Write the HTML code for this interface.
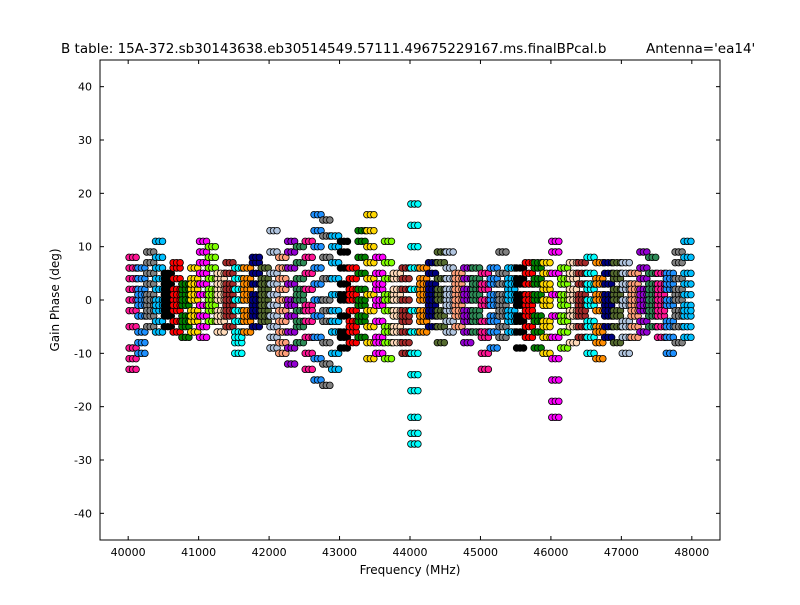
<!DOCTYPE html>
<html><head><meta charset="utf-8"><style>
body{margin:0;background:#fff;}
svg text{font-family:"DejaVu Sans","Liberation Sans",sans-serif;}
</style></head><body>
<svg id="chart" width="800" height="600" xmlns="http://www.w3.org/2000/svg">
<rect width="800" height="600" fill="#fff"/>
<text x="61" y="53" font-size="13.5">B table: 15A-372.sb30143638.eb30514549.57111.49675229167.ms.finalBPcal.b</text>
<text x="646" y="53" font-size="13.5">Antenna='ea14'</text>
<text x="410" y="574" font-size="12" text-anchor="middle">Frequency (MHz)</text>
<text x="59" y="300" font-size="12" text-anchor="middle" transform="rotate(-90 59 300)">Gain Phase (deg)</text>
<g id="marks"></g>
<g id="axes"></g>
</svg>
<script>
const xTicks=[40000,41000,42000,43000,44000,45000,46000,47000,48000];
const yTicks=[-40,-30,-20,-10,0,10,20,30,40];
const winStart=40000, winWidth=125;
const colors=["#ff1493","#1e90ff","#808080","#00bfff","#000000","#ff0000","#008000","#ffd700","#ff00ff","#7fff00","#ffdab9","#a52a2a","#00ffff","#ff8c00","#000080","#556b2f","#b0c4de","#ffa07a","#9400d3","#2e8b57"];
const phases=[
[-13,-9,-5,-2,0,2,4,6,8,-11],[-10,-6,-3,0,2,4,6,-8,1,-1],[-5,-3,-1,1,3,5,7,9,-2,0],[-6,-4,-2,0,2,4,6,11,8,-1],
[-5,-3,-1,1,3,5,-2,0,2,4],[-6,-4,-2,0,2,4,6,7,-1,1],[-7,-5,-3,-1,1,3,-4,0,2,3],[-6,-4,-2,0,2,4,6,-3,1,3],
[-7,-5,-3,-1,1,3,5,7,9,11],[-4,-2,0,2,4,6,8,10,-1,1],[-6,-4,-2,0,2,4,-3,1,3,5],[-5,-3,-1,1,3,5,7,-2,0,2],
[-10,-8,-6,-4,-2,0,2,4,6,-7],[-6,-4,-2,0,2,4,6,-3,1,3],[-5,-3,-1,1,3,5,7,8,-2,0],[-4,-2,0,2,4,6,-3,-1,1,3],
[-9,-7,-5,-3,-1,1,3,5,9,13],[-10,-6,-4,-2,0,2,4,6,8,-8],[-12,-9,-6,-3,0,3,6,9,11,-1],[-8,-5,-2,0,2,4,7,10,-4,1],
[-13,-10,-7,-4,-1,2,5,8,11,-2],[-15,-11,-7,-3,0,3,6,10,16,13],[-16,-12,-8,-4,0,4,8,12,15,-2],[-13,-10,-6,-2,1,4,7,10,12,-4],
[-9,-6,-3,0,3,6,9,11,-7,1],[-8,-6,-4,-2,0,2,4,6,-5,1],[-7,-4,-1,2,5,8,11,13,-3,0],[-11,-8,-5,-2,1,4,7,10,16,13],
[-10,-7,-4,-1,2,5,8,-8,0,3],[-11,-8,-5,-2,1,4,7,11,-6,0],[-8,-5,-2,1,4,-6,-3,0,2,5],[-10,-8,-6,-4,-2,0,2,4,6,-3],
[-27,-25,-22,-17,-14,-10,-6,-2,2,6,10,14,18],[-6,-4,-2,0,2,4,6,-3,1,3],[-5,-3,-1,1,3,5,7,-2,0,2],[-8,-5,-2,1,4,7,9,-3,0,2],
[-6,-4,-2,0,2,4,6,9,-1,1],[-5,-3,-1,1,3,5,-2,0,2,4],[-8,-6,-4,-2,0,2,4,6,-3,1],[-6,-4,-2,0,2,4,6,-3,1,3],
[-13,-10,-7,-4,-1,2,5,-6,0,3],[-9,-6,-3,0,3,6,-4,-1,1,4],[-7,-5,-3,-1,1,3,5,9,-2,0],[-6,-4,-2,0,2,4,6,-3,1,3],
[-9,-6,-3,0,3,6,-4,-1,1,4],[-7,-5,-3,-1,1,3,5,7,-2,0],[-9,-6,-3,0,3,6,7,-4,1,4],[-10,-7,-4,-1,2,5,7,-5,0,3],
[-22,-19,-15,-11,-7,-3,1,5,9,11],[-9,-6,-3,0,3,6,-4,-1,1,4],[-8,-5,-2,1,4,7,-3,0,2,5],[-7,-5,-3,-1,1,3,5,7,-2,0],
[-10,-7,-4,-1,2,5,8,-5,0,3],[-11,-8,-5,-2,1,4,7,-6,0,3],[-7,-5,-3,-1,1,3,5,7,-2,0],[-8,-5,-2,1,4,7,-3,0,2,5],
[-10,-7,-4,-1,2,5,7,-5,0,3],[-7,-5,-3,-1,1,3,5,-2,0,2],[-6,-4,-2,0,2,4,6,9,-1,1],[-5,-3,-1,1,3,5,8,-2,0,2],
[-7,-5,-3,-1,1,3,5,-2,0,2],[-10,-7,-4,-1,2,5,-5,0,3,4],[-8,-5,-2,1,4,7,9,-3,0,2],[-7,-5,-3,-1,1,3,5,8,11,-2]
];
const L=100,R=720,T=60,B=540,xMin=39600,xMax=48400,yMin=-45,yMax=45;
const xs=v=>L+(v-xMin)/(xMax-xMin)*(R-L);
const ys=v=>B-(v-yMin)/(yMax-yMin)*(B-T);
const NS="http://www.w3.org/2000/svg";
const marks=document.getElementById('marks'), axes=document.getElementById('axes');
function mk(tag,attrs,parent){const e=document.createElementNS(NS,tag);for(const k in attrs)e.setAttribute(k,attrs[k]);parent.appendChild(e);return e;}
const offs=[0.1,0.5,0.9];
phases.forEach((vals,i)=>{
  const g=mk('g',{},marks);
  
  
  offs.forEach(o=>{
    vals.forEach(v=>{
      const f=winStart+i*winWidth+o*winWidth;
      const c=mk('circle',{cx:xs(f),cy:ys(v),r:3.3,fill:colors[i%colors.length],stroke:'#000','stroke-width':0.8},g);
      
      
    });
  });
});
const frame=mk('rect',{x:L,y:T,width:R-L,height:B-T,fill:'none',stroke:'#000','stroke-width':1},axes);


xTicks.forEach(t=>{
  const x=xs(t);
  mk('line',{x1:x,x2:x,y1:B,y2:B-4,stroke:'#000'},axes);
  mk('line',{x1:x,x2:x,y1:T,y2:T+4,stroke:'#000'},axes);
  const tx=mk('text',{x:x,y:B+16,'font-size':11,'text-anchor':'middle'},axes);
  tx.textContent=t;
  
  
});
yTicks.forEach(t=>{
  const y=ys(t);
  mk('line',{x1:L,x2:L+4,y1:y,y2:y,stroke:'#000'},axes);
  mk('line',{x1:R,x2:R-4,y1:y,y2:y,stroke:'#000'},axes);
  const tx=mk('text',{x:L-8,y:y+4,'font-size':11,'text-anchor':'end'},axes);
  tx.textContent=t;
  
  
});
</script>
</body></html>
